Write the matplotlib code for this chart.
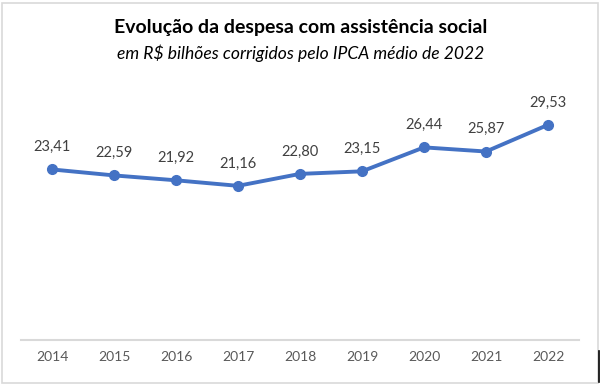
import matplotlib
matplotlib.use("Agg")
import matplotlib.pyplot as plt
from matplotlib.patches import Rectangle
from matplotlib.lines import Line2D

plt.rcParams['font.family'] = ['Lato', 'DejaVu Sans']

anos = ["2014", "2015", "2016", "2017", "2018", "2019", "2020", "2021", "2022"]
despesa = [23.41, 22.59, 21.92, 21.16, 22.80, 23.15, 26.44, 25.87, 29.53]
rotulos = ["23,41", "22,59", "21,92", "21,16", "22,80", "23,15", "26,44", "25,87", "29,53"]

fig = plt.figure(figsize=(6.01, 3.87), dpi=100)
fig.patches.append(Rectangle((2/601, 4/387), 596/601, 380/387, transform=fig.transFigure,
                             fill=False, edgecolor="#d9d9d9", linewidth=1.2))
# small dark mark at lower right edge, as in the screenshot
fig.lines.append(Line2D([598.5/601, 598.5/601], [5/387, 36/387], transform=fig.transFigure,
                        color="#000000", linewidth=1.2))

ax = fig.add_axes([21/601, 47/387, 558/601, 255/387])
x = range(len(anos))
ax.plot(x, despesa, color="#4472C4", linewidth=2.8, marker="o", markersize=7)
for xi, v, t in zip(x, despesa, rotulos):
    ax.annotate(t, (xi, v), xytext=(0, 11), textcoords="offset points",
                ha="center", va="bottom", fontsize=10.5, color="#404040")

ax.set_xlim(-0.5, len(anos) - 0.5)
ax.set_ylim(0, 35)
ax.set_xticks(list(x))
ax.set_xticklabels(anos, fontsize=10, color="#595959")
ax.set_yticks([])
for s in ["top", "left", "right"]:
    ax.spines[s].set_visible(False)
ax.spines["bottom"].set_color("#d9d9d9")
ax.spines["bottom"].set_linewidth(1.5)
ax.tick_params(axis="x", length=0, pad=8)

fig.text(0.5, 1 - 27/387, "Evolução da despesa com assistência social", ha="center", va="center",
         fontsize=14, fontweight="bold", color="#000000")
fig.text(0.5, 1 - 53/387, "em R$ bilhões corrigidos pelo IPCA médio de 2022", ha="center", va="center",
         fontsize=12.6, style="italic", color="#000000")

fig.savefig("out.png", dpi=100)
